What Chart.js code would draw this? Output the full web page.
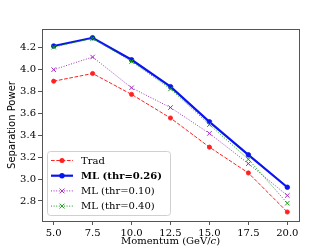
<!DOCTYPE html>
<html>
<head>
<meta charset="utf-8">
<script src="https://cdn.jsdelivr.net/npm/chart.js@4/dist/chart.umd.min.js"></script>
<style>
  html, body { margin: 0; padding: 0; background: #fff; }
  #wrap { width: 332px; height: 249px; }
</style>
</head>
<body>
<div id="wrap"><canvas id="sepChart" width="332" height="249"></canvas></div>
<script>
const momentum = [5.0, 7.5, 10.0, 12.5, 15.0, 17.5, 20.0];

const tradData = [3.89, 3.96, 3.77, 3.555, 3.29, 3.055, 2.70];
const ml026Data = [4.21, 4.285, 4.085, 3.84, 3.52, 3.22, 2.925];
const ml010Data = [3.995, 4.11, 3.83, 3.65, 3.415, 3.14, 2.85];
const ml040Data = [4.20, 4.28, 4.07, 3.82, 3.495, 3.18, 2.78];

const xTicks = [5.0, 7.5, 10.0, 12.5, 15.0, 17.5, 20.0];
const yTicks = [2.8, 3.0, 3.2, 3.4, 3.6, 3.8, 4.0, 4.2];

const serif = "'DejaVu Serif', serif";
const sans = "'DejaVu Sans', sans-serif";
const frameColor = '#555';

function pts(ys) {
  return momentum.map((x, i) => ({ x: x, y: ys[i] }));
}

// draws a marker the same way for the legend handles
function marker(ctx, style, x, y, r, color) {
  ctx.save();
  ctx.setLineDash([]);
  ctx.strokeStyle = color;
  ctx.fillStyle = color;
  if (style === 'circle') {
    ctx.beginPath();
    ctx.arc(x, y, r + 0.4, 0, Math.PI * 2);
    ctx.fill();
  } else {
    ctx.lineWidth = 1;
    const d = r * 0.75;
    ctx.beginPath();
    ctx.moveTo(x - d, y - d); ctx.lineTo(x + d, y + d);
    ctx.moveTo(x - d, y + d); ctx.lineTo(x + d, y - d);
    ctx.stroke();
  }
  ctx.restore();
}

const frame = {
  id: 'frame',
  afterDatasetsDraw(chart) {
    const a = chart.chartArea, ctx = chart.ctx;
    ctx.save();
    ctx.strokeStyle = frameColor;
    ctx.lineWidth = 1;
    ctx.strokeRect(Math.round(a.left) + 0.5, Math.round(a.top) + 0.5,
      Math.round(a.right - a.left), Math.round(a.bottom - a.top));
    ctx.restore();
  }
};

// legend in the lower left corner of the plot, like matplotlib's
const innerLegend = {
  id: 'innerLegend',
  afterDraw(chart) {
    const ctx = chart.ctx, a = chart.chartArea;
    const x0 = a.left + 5, y0 = a.bottom - 70, w = 123, h = 64;
    ctx.save();
    ctx.fillStyle = 'rgba(255,255,255,0.8)';
    ctx.strokeStyle = '#d0d0d0';
    ctx.lineWidth = 1;
    ctx.beginPath();
    ctx.roundRect(x0 + 0.5, y0 + 0.5, w, h, 3);
    ctx.fill();
    ctx.stroke();
    chart.data.datasets.forEach((ds, i) => {
      const y = y0 + 9.5 + i * 15.2;
      ctx.strokeStyle = ds.borderColor;
      ctx.lineWidth = ds.borderWidth;
      ctx.setLineDash(ds.borderDash || []);
      ctx.beginPath();
      ctx.moveTo(x0 + 4, y);
      ctx.lineTo(x0 + 26, y);
      ctx.stroke();
      marker(ctx, ds.pointStyle, x0 + 15, y, ds.pointRadius, ds.borderColor);
      ctx.fillStyle = '#000';
      ctx.font = (ds.bold ? 'bold ' : '') + '10px ' + serif;
      ctx.textBaseline = 'middle';
      ctx.textAlign = 'left';
      ctx.fillText(ds.label, x0 + 34, y + 0.5);
    });
    ctx.restore();
  }
};

// axis titles: the x title has an italic c
const axisTitles = {
  id: 'axisTitles',
  afterDraw(chart) {
    const ctx = chart.ctx, a = chart.chartArea;
    ctx.save();
    ctx.fillStyle = '#000';
    ctx.textBaseline = 'middle';
    const parts = [['Momentum (GeV/', '10px ' + serif], ['c', 'italic 10px ' + serif], [')', '10px ' + serif]];
    let total = 0;
    parts.forEach(p => { ctx.font = p[1]; total += ctx.measureText(p[0]).width; });
    let x = (a.left + a.right) / 2 - total / 2;
    parts.forEach(p => {
      ctx.font = p[1];
      ctx.textAlign = 'left';
      ctx.fillText(p[0], x, 241.5);
      x += ctx.measureText(p[0]).width;
    });
    ctx.translate(12.5, (a.top + a.bottom) / 2);
    ctx.rotate(-Math.PI / 2);
    ctx.font = '10px ' + sans;
    ctx.textAlign = 'center';
    ctx.fillText('Separation Power', 0, 0);
    ctx.restore();
  }
};

new Chart(document.getElementById('sepChart').getContext('2d'), {
  type: 'line',
  data: {
    datasets: [{
      label: 'Trad',
      data: pts(tradData),
      borderColor: '#ff2020',
      backgroundColor: '#ff2020',
      borderWidth: 1,
      borderDash: [3.7, 1.6],
      pointStyle: 'circle',
      pointRadius: 2.1,
      pointBorderWidth: 0.8,
      order: 3
    }, {
      label: 'ML (thr=0.26)',
      bold: true,
      data: pts(ml026Data),
      borderColor: '#0a14f0',
      backgroundColor: '#0a14f0',
      borderWidth: 2.2,
      pointStyle: 'circle',
      pointRadius: 2.3,
      pointBorderWidth: 0.8,
      order: 2
    }, {
      label: 'ML (thr=0.10)',
      data: pts(ml010Data),
      borderColor: '#a02cc0',
      backgroundColor: '#a02cc0',
      borderWidth: 1,
      borderDash: [1, 1.6],
      pointStyle: 'crossRot',
      pointRadius: 3.2,
      pointBorderWidth: 1,
      order: 1
    }, {
      label: 'ML (thr=0.40)',
      data: pts(ml040Data),
      borderColor: '#1a9a1a',
      backgroundColor: '#1a9a1a',
      borderWidth: 1,
      borderDash: [1, 1.6],
      pointStyle: 'crossRot',
      pointRadius: 3.2,
      pointBorderWidth: 1,
      order: 0
    }]
  },
  options: {
    responsive: false,
    animation: false,
    devicePixelRatio: 1,
    layout: { padding: { left: 0, right: 33, top: 29, bottom: 0 } },
    elements: { line: { tension: 0 }, point: { hoverRadius: 3 } },
    plugins: {
      legend: { display: false },
      tooltip: { enabled: false }
    },
    scales: {
      x: {
        type: 'linear',
        min: 4.25,
        max: 20.75,
        afterFit(scale) { scale.height = 28; },
        afterBuildTicks(scale) { scale.ticks = xTicks.map(v => ({ value: v })); },
        grid: { drawOnChartArea: false, drawTicks: true, tickLength: 4, color: frameColor },
        border: { display: true, color: frameColor },
        ticks: {
          color: '#000',
          font: { family: serif, size: 10 },
          padding: 2,
          maxRotation: 0,
          autoSkip: false,
          callback: v => v.toFixed(1)
        }
      },
      y: {
        type: 'linear',
        min: 2.618,
        max: 4.365,
        afterFit(scale) { scale.width = 42; },
        afterBuildTicks(scale) { scale.ticks = yTicks.map(v => ({ value: v })); },
        grid: { drawOnChartArea: false, drawTicks: true, tickLength: 4, color: frameColor },
        border: { display: true, color: frameColor },
        ticks: {
          color: '#000',
          font: { family: serif, size: 10 },
          padding: 2,
          autoSkip: false,
          callback: v => v.toFixed(1)
        }
      }
    }
  },
  plugins: [frame, innerLegend, axisTitles]
});
</script>
</body>
</html>
